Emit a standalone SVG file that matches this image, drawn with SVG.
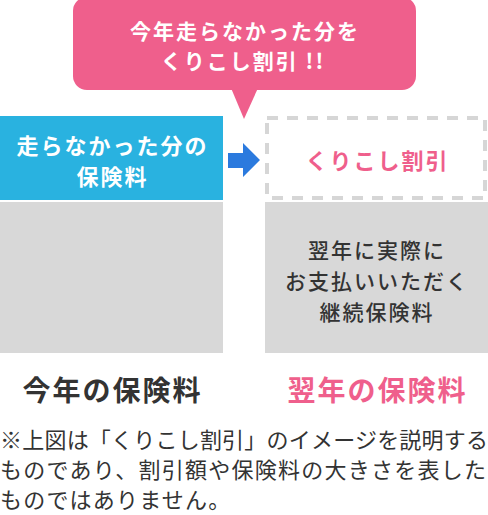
<svg xmlns="http://www.w3.org/2000/svg" width="488" height="515" viewBox="0 0 488 515">
<style>
text{font-family:"Noto Sans CJK JP","Noto Sans",sans-serif;text-anchor:middle}
.w{fill:#fff}
.pk{fill:#ef5f8c}
.dk{fill:#333}
.b{font-weight:700}
.m{font-weight:500}
.gray{fill:#d8d8d8}
</style>
<g id="bubble">
<rect x="73" y="-3" width="343" height="93" rx="14" class="pk"/>
<polygon points="231,88 258,88 244,119" class="pk"/>
<text class="w b" x="245" y="39" font-size="21" letter-spacing="2">今年走らなかった分を</text>
<text class="w b" x="243" y="69" font-size="21" letter-spacing="2">くりこし割引 !!</text>
</g>
<g id="this-year-unused">
<rect x="0" y="116" width="223" height="84" fill="#29b2e0"/>
<text class="w b" x="112.5" y="154" font-size="22" letter-spacing="2">走らなかった分の</text>
<text class="w b" x="112.5" y="185" font-size="22" letter-spacing="2">保険料</text>
</g>
<g id="this-year-rest">
<rect x="0" y="202" width="223" height="151" class="gray"/>
</g>
<g id="next-year-discount">
<rect x="267" y="118" width="218" height="80" fill="#fff" stroke="#d6d6d6" stroke-width="4" stroke-dasharray="11 9"/>
<text class="pk b" x="377.5" y="169" font-size="22" letter-spacing="2">くりこし割引</text>
</g>
<g id="next-year-rest">
<rect x="265" y="202" width="223" height="151" class="gray"/>
<text class="dk m" x="377" y="258" font-size="21" letter-spacing="2">翌年に実際に</text>
<text class="dk m" x="377" y="289" font-size="21" letter-spacing="2">お支払いいただく</text>
<text class="dk m" x="377" y="320" font-size="21" letter-spacing="2">継続保険料</text>
</g>
<g id="connectors">
<path d="M228,153 H243 V143 L260,160 L243,177 V168 H228 Z" fill="#2b7ade"/>
</g>
<g id="labels">
<text class="dk b" x="112.5" y="401" font-size="28" letter-spacing="2">今年の保険料</text>
<text class="pk b" x="377.5" y="401" font-size="28" letter-spacing="2">翌年の保険料</text>
</g>
<g id="note">
<text class="dk" x="0" y="448" font-size="22" style="text-anchor:start" textLength="488" lengthAdjust="spacing">※上図は「くりこし割引」のイメージを説明する</text>
<text class="dk" x="0" y="478" font-size="22" style="text-anchor:start" textLength="486" lengthAdjust="spacing">ものであり、割引額や保険料の大きさを表した</text>
<text class="dk" x="0" y="508" font-size="22" style="text-anchor:start" letter-spacing="1.2">ものではありません。</text>
</g>
</svg>
